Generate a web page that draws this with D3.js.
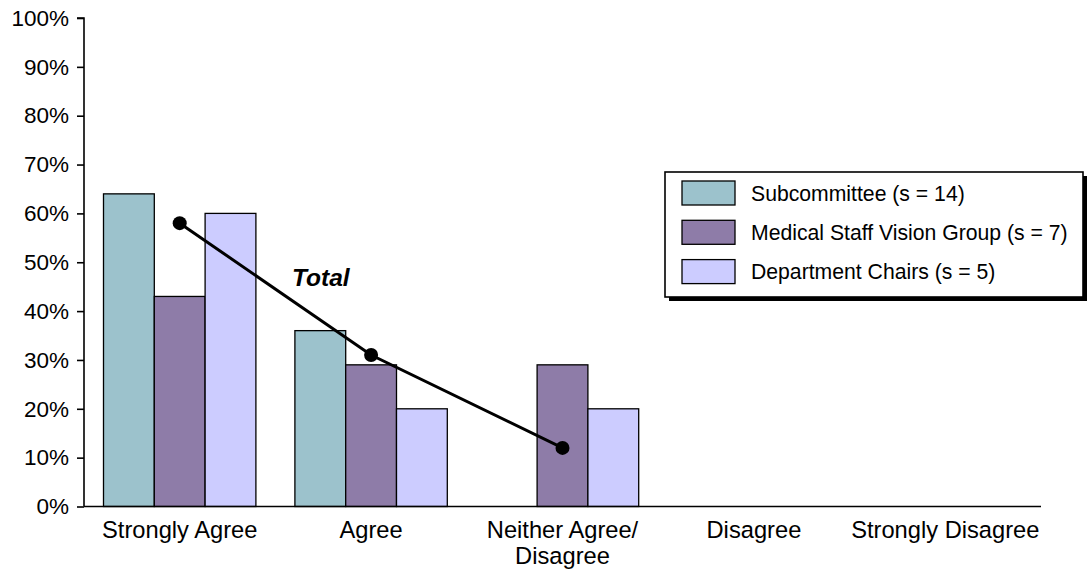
<!DOCTYPE html>
<html>
<head>
<meta charset="utf-8">
<script src="https://cdn.jsdelivr.net/npm/d3@7"></script>
<style>
  html, body { margin: 0; padding: 0; background: #fff; }
  svg { display: block; font-family: "Liberation Sans", Arial, sans-serif; }
</style>
</head>
<body>
<svg id="chart" width="1088" height="571"></svg>
<script>
// Response categories (x axis)
const categories = ["Strongly Agree", "Agree", "Neither Agree/\nDisagree", "Disagree", "Strongly Disagree"];
// Respondent groups
const seriesNames = ["Subcommittee (s = 14)", "Medical Staff Vision Group (s = 7)", "Department Chairs (s = 5)"];
const seriesColors = ["#9cc2cc", "#8e7ca8", "#ccccff"];
// Percentage of each group per category
const subcommittee = [64, 36, 0, 0, 0];
const visionGroup = [43, 29, 29, 0, 0];
const departmentChairs = [60, 20, 20, 0, 0];
// Overall percentage across all groups
const totalValues = [58, 31, 12];
const yTicks = [0, 10, 20, 30, 40, 50, 60, 70, 80, 90, 100];

const seriesValues = [subcommittee, visionGroup, departmentChairs];

const svg = d3.select("#chart");
const plotLeft = 84, plotRight = 1041, plotTop = 18, plotBottom = 506.5;

const x0 = d3.scaleBand().domain(categories).range([plotLeft, plotRight]).padding(0);
const x1 = d3.scaleBand().domain(d3.range(seriesNames.length))
  .range([19.5, x0.bandwidth() - 19.5]).padding(0);
const y = d3.scaleLinear().domain([0, 100]).range([plotBottom, plotTop]);

// Bars
const rows = categories.map((c, i) => ({ cat: c, vals: seriesValues.map((s, k) => ({ k, v: s[i] })) }));
const groups = svg.append("g").selectAll("g").data(rows).join("g")
  .attr("transform", d => `translate(${x0(d.cat)},0)`);
groups.selectAll("rect").data(d => d.vals.filter(e => e.v > 0)).join("rect")
  .attr("x", d => x1(d.k))
  .attr("y", d => y(d.v))
  .attr("width", x1.bandwidth())
  .attr("height", d => y(0) - y(d.v))
  .attr("fill", d => seriesColors[d.k])
  .attr("stroke", "#000")
  .attr("stroke-width", 1.3);

// Y axis
const yAxis = d3.axisLeft(y).tickValues(yTicks).tickSize(7).tickPadding(8)
  .tickFormat(d => d + "%");
const yg = svg.append("g").attr("transform", `translate(${plotLeft},0)`).call(yAxis);
yg.select(".domain").attr("stroke", "#000").attr("stroke-width", 1.6).attr("d", `M-7,${plotTop}H0V${plotBottom}`);
yg.selectAll(".tick line").attr("stroke", "#000").attr("stroke-width", 1.6);
yg.selectAll(".tick text").attr("font-size", 22.5).attr("fill", "#000")
  .attr("font-family", "Liberation Sans, Arial, sans-serif");

// X axis
const xAxis = d3.axisBottom(x0).tickSize(0).tickPadding(0).tickFormat("");
const xg = svg.append("g").attr("transform", `translate(0,${plotBottom})`).call(xAxis);
xg.select(".domain").attr("stroke", "#000").attr("stroke-width", 1.6).attr("d", `M${plotLeft},0H${plotRight}`);
xg.selectAll(".tick").each(function (d) {
  const lines = d.split("\n");
  const t = d3.select(this).append("text")
    .attr("text-anchor", "middle")
    .attr("fill", "#000")
    .attr("font-size", 23.7)
    .attr("font-family", "Liberation Sans, Arial, sans-serif");
  lines.forEach((ln, i) => {
    t.append("tspan").attr("x", 0).attr("y", 31 + i * 26.5).text(ln);
  });
});

// Total line with markers
const centerX = i => x0(categories[i]) + x0.bandwidth() / 2;
const line = d3.line().x((d, i) => centerX(i)).y(d => y(d));
svg.append("path").datum(totalValues)
  .attr("d", line)
  .attr("fill", "none")
  .attr("stroke", "#000")
  .attr("stroke-width", 3);
svg.append("g").selectAll("circle").data(totalValues).join("circle")
  .attr("cx", (d, i) => centerX(i))
  .attr("cy", d => y(d))
  .attr("r", 7)
  .attr("fill", "#000");
svg.append("text")
  .attr("x", 292).attr("y", 285.5)
  .attr("font-size", 24.5)
  .attr("font-weight", "bold")
  .attr("font-style", "italic")
  .attr("fill", "#000")
  .text("Total");

// Legend
const lg = svg.append("g").attr("transform", "translate(665,172)");
const lw = 418, lh = 125;
lg.append("rect").attr("x", 4).attr("y", 4).attr("width", lw).attr("height", lh).attr("fill", "#000");
lg.append("rect").attr("x", 0).attr("y", 0).attr("width", lw).attr("height", lh)
  .attr("fill", "#fff").attr("stroke", "#000").attr("stroke-width", 1.6);
const items = lg.selectAll("g.item").data(seriesNames).join("g").attr("class", "item")
  .attr("transform", (d, i) => `translate(0,${9 + i * 39.3})`);
items.append("rect").attr("x", 17).attr("y", 0).attr("width", 53).attr("height", 24)
  .attr("fill", (d, i) => seriesColors[i]).attr("stroke", "#000").attr("stroke-width", 1.3);
items.append("text").attr("x", 86).attr("y", 19.5)
  .attr("font-size", 21.2).attr("fill", "#000").text(d => d);
</script>
</body>
</html>
